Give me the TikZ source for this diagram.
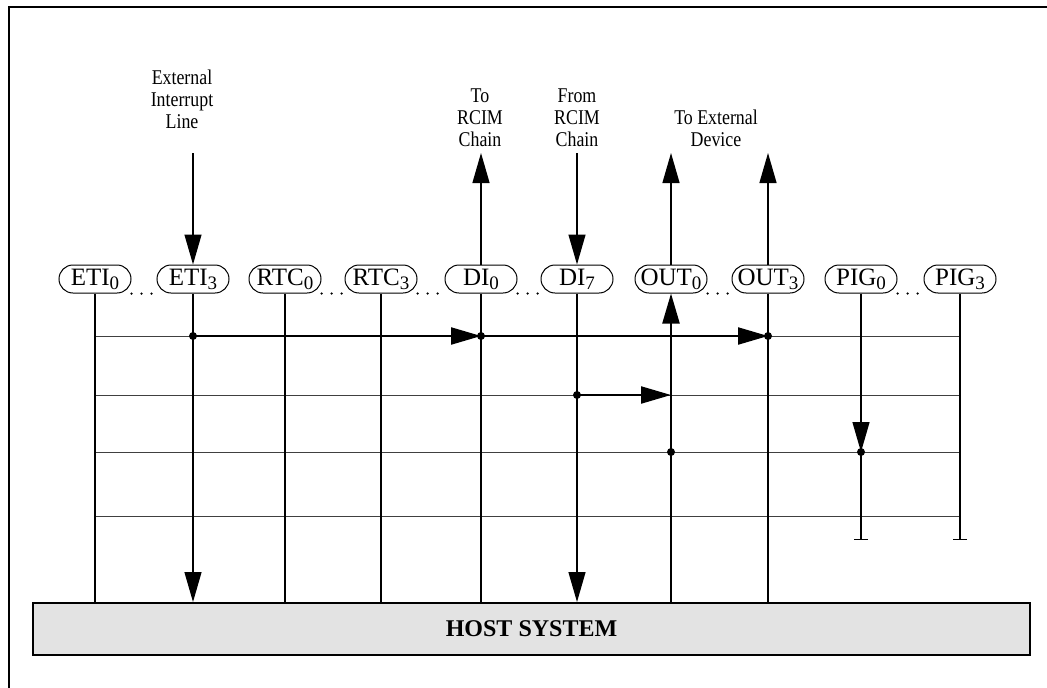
\documentclass[tikz,border=0pt]{standalone}
\usepackage{fontspec}
\setmainfont{Liberation Serif}
\newfontfamily\narrowlbl{Liberation Serif}[FakeStretch=0.85]
\usetikzlibrary{arrows.meta}

\newcommand{\lowidx}[1]{\raisebox{-4pt}{\fontsize{19}{19}\selectfont#1}}

\tikzset{
  sigpill/.style={draw,line width=1pt,rounded corners=14pt,minimum width=72pt,
    minimum height=28pt,inner sep=0pt,font=\fontsize{25}{25}\selectfont},
  riser/.style={line width=1.3pt},
  busline/.style={line width=1pt,draw=black!75},
  flow/.style={line width=2.2pt,-{Triangle[length=30pt,width=17pt]}},
  headonly/.style={line width=1.3pt,-{Triangle[length=30pt,width=17pt]}},
  stub/.style={line width=1.3pt,-{Bar[width=14pt]}},
  dotrow/.style={line width=2.5pt,line cap=round,dash pattern=on 0pt off 10pt},
  toplabel/.style={align=center,inner sep=0pt,font=\narrowlbl\fontsize{21}{22}\selectfont},
  hostbox/.style={draw,line width=2pt,fill=black!11,minimum width=997pt,
    minimum height=52pt,font=\bfseries\fontsize{24}{24}\selectfont},
  tap/.style={fill=black}
}

\begin{document}
\begin{tikzpicture}[x=1pt,y=-1pt]
\useasboundingbox (0,0) rectangle (1047,688);
\draw[line width=2pt] (9,688) -- (9,7) -- (1047,7);

\node[hostbox] (host) at (531.5,629) {HOST SYSTEM};

\node[sigpill] (eti0) at (95,279) {ETI\lowidx{0}};
\node[sigpill] (eti3) at (193,279) {ETI\lowidx{3}};
\node[sigpill] (rtc0) at (285,279) {RTC\lowidx{0}};
\node[sigpill] (rtc3) at (381,279) {RTC\lowidx{3}};
\node[sigpill] (di0) at (481,279) {DI\lowidx{0}};
\node[sigpill] (di7) at (577,279) {DI\lowidx{7}};
\node[sigpill] (out0) at (671,279) {OUT\lowidx{0}};
\node[sigpill] (out3) at (768,279) {OUT\lowidx{3}};
\node[sigpill] (pig0) at (861,279) {PIG\lowidx{0}};
\node[sigpill] (pig3) at (960,279) {PIG\lowidx{3}};

\draw[dotrow] (eti0.south east) -- (eti3.south west);
\draw[dotrow] (rtc0.south east) -- (rtc3.south west);
\draw[dotrow] (rtc3.south east) -- (di0.south west);
\draw[dotrow] (di0.south east) -- (di7.south west);
\draw[dotrow] (out0.south east) -- (out3.south west);
\draw[dotrow] (pig0.south east) -- (pig3.south west);

\node[toplabel] (extlbl) at (182,99) {External\\Interrupt\\Line};
\node[toplabel] (torcim) at (480,118) {To\\RCIM\\Chain};
\node[toplabel] (fromrcim) at (577,118) {From\\RCIM\\Chain};
\node[toplabel] (extdev) at (716,128) {To External\\Device};

\coordinate (intop) at (0,153);
\coordinate (row1) at (0,336);
\coordinate (row2) at (0,395);
\coordinate (row3) at (0,452);
\coordinate (row4) at (0,516);
\coordinate (stubrow) at (0,540);

% bus rows
\draw[busline] (eti0 |- row1) -- (pig3 |- row1);
\draw[busline] (eti0 |- row2) -- (pig3 |- row2);
\draw[busline] (eti0 |- row3) -- (pig3 |- row3);
\draw[busline] (eti0 |- row4) -- (pig3 |- row4);

% risers to the host
\draw[riser] (eti0.south) -- (eti0 |- host.north);
\draw[riser] (rtc0.south) -- (rtc0 |- host.north);
\draw[riser] (rtc3.south) -- (rtc3 |- host.north);
\draw[riser] (di0.south) -- (di0 |- host.north);
\draw[riser] (out3.south) -- (out3 |- host.north);
\draw[riser] (out0 |- row2) -- (out0 |- host.north);
\draw[headonly] (eti3.south) -- (eti3 |- host.north);
\draw[headonly] (di7.south) -- (di7 |- host.north);
\draw[stub] (pig0.south) -- (pig0 |- stubrow);
\draw[stub] (pig3.south) -- (pig3 |- stubrow);
\draw[headonly] (pig0.south) -- (pig0 |- row3);

% outside connections
\draw[headonly] (eti3 |- intop) -- (eti3.north);
\draw[headonly] (di7 |- intop) -- (di7.north);
\draw[headonly] (di0.north) -- (di0 |- intop);
\draw[headonly] (out0.north) -- (out0 |- intop);
\draw[headonly] (out3.north) -- (out3 |- intop);

% routed signals
\draw[flow] (eti3 |- row1) -- (di0 |- row1);
\draw[flow] (di0 |- row1) -- (out3 |- row1);
\draw[flow] (di7 |- row2) -- (out0 |- row2);
\draw[flow] (out0 |- row2) -- (out0.south);

\fill[tap] (eti3 |- row1) circle (4pt);
\fill[tap] (di0 |- row1) circle (4pt);
\fill[tap] (out3 |- row1) circle (4pt);
\fill[tap] (di7 |- row2) circle (4pt);
\fill[tap] (out0 |- row3) circle (4pt);
\fill[tap] (pig0 |- row3) circle (4pt);
\end{tikzpicture}
\end{document}
